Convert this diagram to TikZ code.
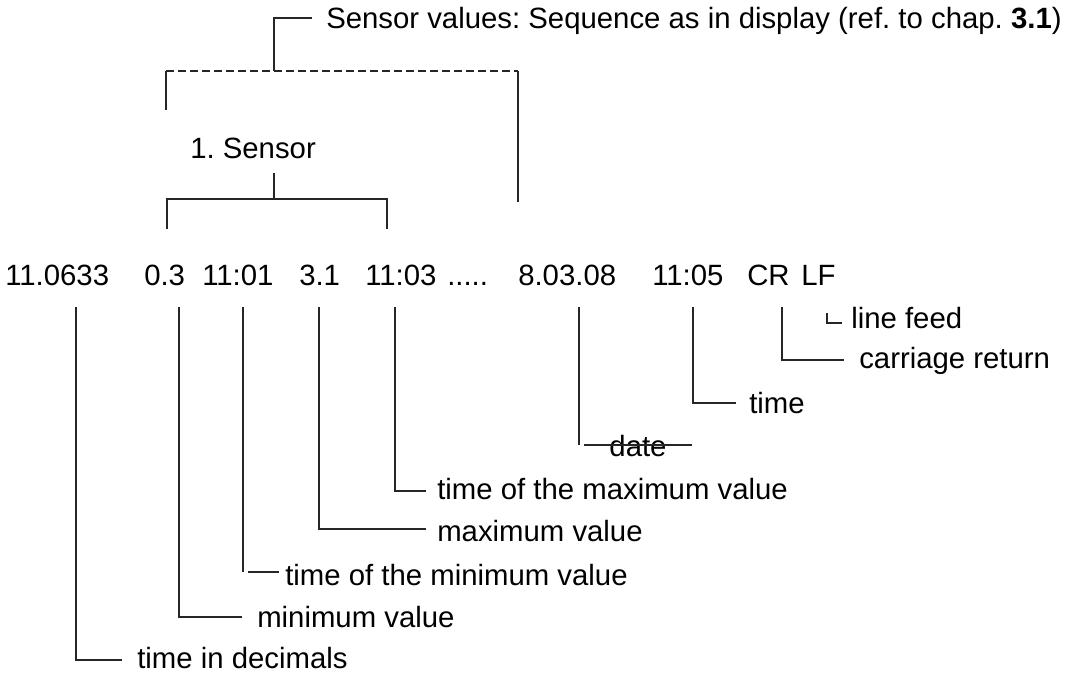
\documentclass[tikz,border=0pt]{standalone}
\usepackage{fontspec}
\setmainfont{Liberation Sans}
\frenchspacing
\begin{document}
\begin{tikzpicture}[x=0.75pt,y=-0.75pt,
  txt/.style={inner sep=0pt, anchor=base west, font=\fontsize{22}{26}\selectfont},
  ln/.style={line width=0.8pt, draw=black!85},
  dsh/.style={ln, dash pattern=on 6pt off 3pt}]
\useasboundingbox (0,0) rectangle (1066,675);

% header texts
\node[txt] (sv) at (326,28) {Sensor values: Sequence as in display (ref. to chap. \textbf{3.1})};
\node[txt] (s1) at (190,158) {1. Sensor};

% data row
\node[txt] (n1) at (5,285) {11.0633};
\node[txt] (n2) at (144,285) {0.3};
\node[txt] (n3) at (202,285) {11:01};
\node[txt] (n4) at (299,285) {3.1};
\node[txt] (n5) at (365,285) {11:03};
\node[txt] (n6) at (447,285) {.....};
\node[txt] (n7) at (518,285) {8.03.08};
\node[txt] (n8) at (652,285) {11:05};
\node[txt] (n9) at (747,285) {CR};
\node[txt] (n10) at (801,285) {LF};

% labels
\node[txt] (l1) at (137,668) {time in decimals};
\node[txt] (l2) at (257,627) {minimum value};
\node[txt] (l3) at (285,585) {time of the minimum value};
\node[txt] (l4) at (437,541) {maximum value};
\node[txt] (l5) at (437,499) {time of the maximum value};
\node[txt, anchor=base] (l6) at (638,456) {date};
\node[txt] (l7) at (749,413) {time};
\node[txt] (l8) at (859,368) {carriage return};
\node[txt] (l9) at (851,328) {line feed};

% top bracket
\coordinate (t0) at (312,18);
\coordinate (t1) at (274,71);
\draw[ln] (t0) -| (t1);
\coordinate (dL) at (166,110);
\coordinate (dl) at (166,71);
\coordinate (dr) at (518,71);
\coordinate (dR) at (518,202);
\draw[ln] (dL) -- (dl);
\draw[dsh] (dl) -- (dr);
\draw[ln] (dr) -- (dR);

% sensor bracket
\coordinate (a0) at (274,173);
\coordinate (a1) at (274,199);
\coordinate (bL) at (167,229);
\coordinate (bR) at (387,229);
\draw[ln] (a0) -- (a1);
\draw[ln] (bL) -- (bL |- a1) -- (bR |- a1) -- (bR);

% leaders
\coordinate (v1) at (76,307);  \coordinate (h1) at (122,660);
\coordinate (v2) at (179,307); \coordinate (h2) at (242,617);
\coordinate (v3) at (243,307); \coordinate (e3) at (243,572);
\coordinate (g3) at (248,572); \coordinate (h3) at (279,572);
\coordinate (v4) at (319,307); \coordinate (h4) at (426,529);
\coordinate (v5) at (395,307); \coordinate (h5) at (426,491);
\coordinate (v6) at (579,307); \coordinate (e6) at (579,445);
\coordinate (g6) at (584,445); \coordinate (h6) at (692,445);
\coordinate (v7) at (693,307); \coordinate (h7) at (736,403);
\coordinate (v8) at (782,307); \coordinate (h8) at (844,360);
\coordinate (v9) at (827,313); \coordinate (h9) at (842,323);

\draw[ln] (v1) |- (h1);
\draw[ln] (v2) |- (h2);
\draw[ln] (v3) -- (e3);
\draw[ln] (g3) -- (h3);
\draw[ln] (v4) |- (h4);
\draw[ln] (v5) |- (h5);
\draw[ln] (v6) -- (e6);
\draw[ln] (g6) -- (h6);
\draw[ln] (v7) |- (h7);
\draw[ln] (v8) |- (h8);
\draw[ln] (v9) |- (h9);
\end{tikzpicture}
\end{document}
